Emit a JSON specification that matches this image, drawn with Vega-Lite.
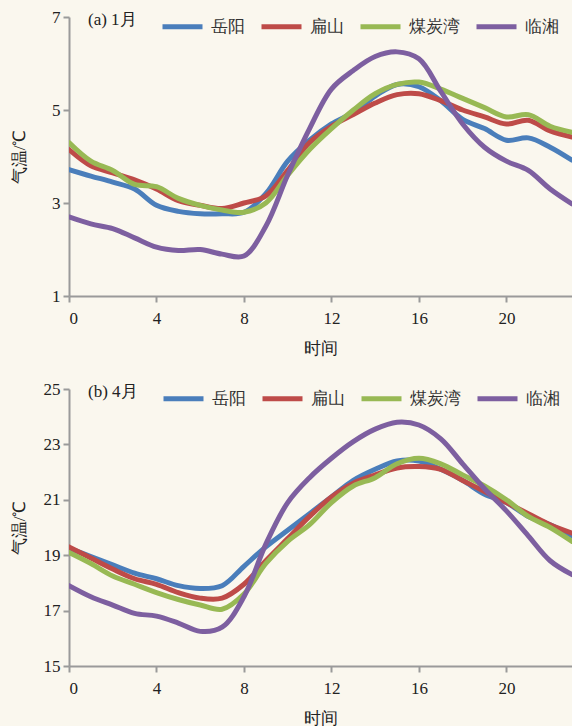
{
  "$schema": "https://vega.github.io/schema/vega-lite/v6.json",
  "autosize": {"type": "pad"},
  "padding": {"left": 10, "top": 4, "right": 0, "bottom": 0},
  "background": "#faf7ee",
  "bounds": "flush",
  "spacing": 93,
  "config": {
    "view": {"stroke": null},
    "font": "Liberation Serif",
    "axis": {
      "grid": false,
      "domainColor": "#9a9a9a",
      "domainWidth": 2,
      "tickColor": "#9a9a9a",
      "tickWidth": 2,
      "tickSize": 6,
      "labelFont": "Liberation Serif",
      "labelFontSize": 17,
      "labelColor": "#222222",
      "titleFont": "Liberation Serif",
      "titleFontSize": 17,
      "titleFontWeight": "normal",
      "titleColor": "#222222"
    },
    "legend": {
      "labelFont": "Liberation Serif",
      "labelFontSize": 17,
      "labelColor": "#333333",
      "titleFont": "Liberation Serif",
      "titleFontSize": 17,
      "titleFontWeight": "normal",
      "titleColor": "#222222"
    }
  },
  "datasets": {
    "temps": [
      {"p":"a","s":"岳阳","h":0,"t":3.72},{"p":"a","s":"岳阳","h":1,"t":3.58},{"p":"a","s":"岳阳","h":2,"t":3.45},{"p":"a","s":"岳阳","h":3,"t":3.3},{"p":"a","s":"岳阳","h":4,"t":2.95},{"p":"a","s":"岳阳","h":5,"t":2.82},{"p":"a","s":"岳阳","h":6,"t":2.77},{"p":"a","s":"岳阳","h":7,"t":2.77},{"p":"a","s":"岳阳","h":8,"t":2.8},{"p":"a","s":"岳阳","h":9,"t":3.2},{"p":"a","s":"岳阳","h":10,"t":3.9},{"p":"a","s":"岳阳","h":11,"t":4.35},{"p":"a","s":"岳阳","h":12,"t":4.7},{"p":"a","s":"岳阳","h":13,"t":4.95},{"p":"a","s":"岳阳","h":14,"t":5.3},{"p":"a","s":"岳阳","h":15,"t":5.55},{"p":"a","s":"岳阳","h":16,"t":5.5},{"p":"a","s":"岳阳","h":17,"t":5.2},{"p":"a","s":"岳阳","h":18,"t":4.8},{"p":"a","s":"岳阳","h":19,"t":4.6},{"p":"a","s":"岳阳","h":20,"t":4.35},{"p":"a","s":"岳阳","h":21,"t":4.4},{"p":"a","s":"岳阳","h":22,"t":4.2},{"p":"a","s":"岳阳","h":23,"t":3.92},
      {"p":"a","s":"扁山","h":0,"t":4.15},{"p":"a","s":"扁山","h":1,"t":3.8},{"p":"a","s":"扁山","h":2,"t":3.65},{"p":"a","s":"扁山","h":3,"t":3.5},{"p":"a","s":"扁山","h":4,"t":3.3},{"p":"a","s":"扁山","h":5,"t":3.05},{"p":"a","s":"扁山","h":6,"t":2.95},{"p":"a","s":"扁山","h":7,"t":2.88},{"p":"a","s":"扁山","h":8,"t":3.0},{"p":"a","s":"扁山","h":9,"t":3.15},{"p":"a","s":"扁山","h":10,"t":3.7},{"p":"a","s":"扁山","h":11,"t":4.3},{"p":"a","s":"扁山","h":12,"t":4.65},{"p":"a","s":"扁山","h":13,"t":4.9},{"p":"a","s":"扁山","h":14,"t":5.15},{"p":"a","s":"扁山","h":15,"t":5.33},{"p":"a","s":"扁山","h":16,"t":5.35},{"p":"a","s":"扁山","h":17,"t":5.2},{"p":"a","s":"扁山","h":18,"t":5.0},{"p":"a","s":"扁山","h":19,"t":4.85},{"p":"a","s":"扁山","h":20,"t":4.7},{"p":"a","s":"扁山","h":21,"t":4.78},{"p":"a","s":"扁山","h":22,"t":4.55},{"p":"a","s":"扁山","h":23,"t":4.42},
      {"p":"a","s":"煤炭湾","h":0,"t":4.3},{"p":"a","s":"煤炭湾","h":1,"t":3.9},{"p":"a","s":"煤炭湾","h":2,"t":3.7},{"p":"a","s":"煤炭湾","h":3,"t":3.4},{"p":"a","s":"煤炭湾","h":4,"t":3.35},{"p":"a","s":"煤炭湾","h":5,"t":3.1},{"p":"a","s":"煤炭湾","h":6,"t":2.95},{"p":"a","s":"煤炭湾","h":7,"t":2.85},{"p":"a","s":"煤炭湾","h":8,"t":2.8},{"p":"a","s":"煤炭湾","h":9,"t":3.0},{"p":"a","s":"煤炭湾","h":10,"t":3.6},{"p":"a","s":"煤炭湾","h":11,"t":4.15},{"p":"a","s":"煤炭湾","h":12,"t":4.6},{"p":"a","s":"煤炭湾","h":13,"t":5.0},{"p":"a","s":"煤炭湾","h":14,"t":5.35},{"p":"a","s":"煤炭湾","h":15,"t":5.55},{"p":"a","s":"煤炭湾","h":16,"t":5.6},{"p":"a","s":"煤炭湾","h":17,"t":5.45},{"p":"a","s":"煤炭湾","h":18,"t":5.25},{"p":"a","s":"煤炭湾","h":19,"t":5.05},{"p":"a","s":"煤炭湾","h":20,"t":4.85},{"p":"a","s":"煤炭湾","h":21,"t":4.9},{"p":"a","s":"煤炭湾","h":22,"t":4.65},{"p":"a","s":"煤炭湾","h":23,"t":4.52},
      {"p":"a","s":"临湘","h":0,"t":2.7},{"p":"a","s":"临湘","h":1,"t":2.55},{"p":"a","s":"临湘","h":2,"t":2.45},{"p":"a","s":"临湘","h":3,"t":2.25},{"p":"a","s":"临湘","h":4,"t":2.05},{"p":"a","s":"临湘","h":5,"t":1.98},{"p":"a","s":"临湘","h":6,"t":2.0},{"p":"a","s":"临湘","h":7,"t":1.9},{"p":"a","s":"临湘","h":8,"t":1.86},{"p":"a","s":"临湘","h":9,"t":2.5},{"p":"a","s":"临湘","h":10,"t":3.6},{"p":"a","s":"临湘","h":11,"t":4.6},{"p":"a","s":"临湘","h":12,"t":5.45},{"p":"a","s":"临湘","h":13,"t":5.85},{"p":"a","s":"临湘","h":14,"t":6.15},{"p":"a","s":"临湘","h":15,"t":6.25},{"p":"a","s":"临湘","h":16,"t":6.1},{"p":"a","s":"临湘","h":17,"t":5.4},{"p":"a","s":"临湘","h":18,"t":4.7},{"p":"a","s":"临湘","h":19,"t":4.2},{"p":"a","s":"临湘","h":20,"t":3.9},{"p":"a","s":"临湘","h":21,"t":3.7},{"p":"a","s":"临湘","h":22,"t":3.3},{"p":"a","s":"临湘","h":23,"t":2.98},
      {"p":"b","s":"岳阳","h":0,"t":19.25},{"p":"b","s":"岳阳","h":1,"t":18.95},{"p":"b","s":"岳阳","h":2,"t":18.65},{"p":"b","s":"岳阳","h":3,"t":18.35},{"p":"b","s":"岳阳","h":4,"t":18.15},{"p":"b","s":"岳阳","h":5,"t":17.9},{"p":"b","s":"岳阳","h":6,"t":17.8},{"p":"b","s":"岳阳","h":7,"t":17.9},{"p":"b","s":"岳阳","h":8,"t":18.6},{"p":"b","s":"岳阳","h":9,"t":19.3},{"p":"b","s":"岳阳","h":10,"t":19.9},{"p":"b","s":"岳阳","h":11,"t":20.5},{"p":"b","s":"岳阳","h":12,"t":21.1},{"p":"b","s":"岳阳","h":13,"t":21.7},{"p":"b","s":"岳阳","h":14,"t":22.1},{"p":"b","s":"岳阳","h":15,"t":22.4},{"p":"b","s":"岳阳","h":16,"t":22.4},{"p":"b","s":"岳阳","h":17,"t":22.1},{"p":"b","s":"岳阳","h":18,"t":21.7},{"p":"b","s":"岳阳","h":19,"t":21.2},{"p":"b","s":"岳阳","h":20,"t":20.9},{"p":"b","s":"岳阳","h":21,"t":20.4},{"p":"b","s":"岳阳","h":22,"t":20.1},{"p":"b","s":"岳阳","h":23,"t":19.7},
      {"p":"b","s":"扁山","h":0,"t":19.3},{"p":"b","s":"扁山","h":1,"t":18.9},{"p":"b","s":"扁山","h":2,"t":18.5},{"p":"b","s":"扁山","h":3,"t":18.15},{"p":"b","s":"扁山","h":4,"t":17.95},{"p":"b","s":"扁山","h":5,"t":17.65},{"p":"b","s":"扁山","h":6,"t":17.45},{"p":"b","s":"扁山","h":7,"t":17.45},{"p":"b","s":"扁山","h":8,"t":17.95},{"p":"b","s":"扁山","h":9,"t":18.8},{"p":"b","s":"扁山","h":10,"t":19.6},{"p":"b","s":"扁山","h":11,"t":20.4},{"p":"b","s":"扁山","h":12,"t":21.1},{"p":"b","s":"扁山","h":13,"t":21.6},{"p":"b","s":"扁山","h":14,"t":21.9},{"p":"b","s":"扁山","h":15,"t":22.15},{"p":"b","s":"扁山","h":16,"t":22.2},{"p":"b","s":"扁山","h":17,"t":22.1},{"p":"b","s":"扁山","h":18,"t":21.7},{"p":"b","s":"扁山","h":19,"t":21.3},{"p":"b","s":"扁山","h":20,"t":20.9},{"p":"b","s":"扁山","h":21,"t":20.5},{"p":"b","s":"扁山","h":22,"t":20.1},{"p":"b","s":"扁山","h":23,"t":19.8},
      {"p":"b","s":"煤炭湾","h":0,"t":19.1},{"p":"b","s":"煤炭湾","h":1,"t":18.7},{"p":"b","s":"煤炭湾","h":2,"t":18.25},{"p":"b","s":"煤炭湾","h":3,"t":17.95},{"p":"b","s":"煤炭湾","h":4,"t":17.65},{"p":"b","s":"煤炭湾","h":5,"t":17.4},{"p":"b","s":"煤炭湾","h":6,"t":17.2},{"p":"b","s":"煤炭湾","h":7,"t":17.05},{"p":"b","s":"煤炭湾","h":8,"t":17.6},{"p":"b","s":"煤炭湾","h":9,"t":18.7},{"p":"b","s":"煤炭湾","h":10,"t":19.5},{"p":"b","s":"煤炭湾","h":11,"t":20.1},{"p":"b","s":"煤炭湾","h":12,"t":20.9},{"p":"b","s":"煤炭湾","h":13,"t":21.5},{"p":"b","s":"煤炭湾","h":14,"t":21.8},{"p":"b","s":"煤炭湾","h":15,"t":22.3},{"p":"b","s":"煤炭湾","h":16,"t":22.5},{"p":"b","s":"煤炭湾","h":17,"t":22.3},{"p":"b","s":"煤炭湾","h":18,"t":21.9},{"p":"b","s":"煤炭湾","h":19,"t":21.5},{"p":"b","s":"煤炭湾","h":20,"t":21.0},{"p":"b","s":"煤炭湾","h":21,"t":20.4},{"p":"b","s":"煤炭湾","h":22,"t":20.0},{"p":"b","s":"煤炭湾","h":23,"t":19.5},
      {"p":"b","s":"临湘","h":0,"t":17.9},{"p":"b","s":"临湘","h":1,"t":17.5},{"p":"b","s":"临湘","h":2,"t":17.2},{"p":"b","s":"临湘","h":3,"t":16.9},{"p":"b","s":"临湘","h":4,"t":16.8},{"p":"b","s":"临湘","h":5,"t":16.55},{"p":"b","s":"临湘","h":6,"t":16.25},{"p":"b","s":"临湘","h":7,"t":16.4},{"p":"b","s":"临湘","h":8,"t":17.5},{"p":"b","s":"临湘","h":9,"t":19.4},{"p":"b","s":"临湘","h":10,"t":20.9},{"p":"b","s":"临湘","h":11,"t":21.8},{"p":"b","s":"临湘","h":12,"t":22.5},{"p":"b","s":"临湘","h":13,"t":23.1},{"p":"b","s":"临湘","h":14,"t":23.55},{"p":"b","s":"临湘","h":15,"t":23.8},{"p":"b","s":"临湘","h":16,"t":23.7},{"p":"b","s":"临湘","h":17,"t":23.2},{"p":"b","s":"临湘","h":18,"t":22.3},{"p":"b","s":"临湘","h":19,"t":21.4},{"p":"b","s":"临湘","h":20,"t":20.6},{"p":"b","s":"临湘","h":21,"t":19.7},{"p":"b","s":"临湘","h":22,"t":18.8},{"p":"b","s":"临湘","h":23,"t":18.3}
    ]
  },
  "data": {"name": "temps"},
  "vconcat": [
    {
      "width": 503,
      "height": 279,
      "transform": [{"filter": "datum.p === 'a'"}],
      "mark": {"type": "line", "interpolate": "catmull-rom", "strokeWidth": 5, "strokeCap": "round", "clip": true},
      "encoding": {
        "x": {"field": "h", "type": "quantitative", "title": "时间",
          "scale": {"domain": [0, 23], "nice": false, "zero": false},
          "axis": {"values": [0, 4, 8, 12, 16, 20], "labelPadding": 8, "titlePadding": 14}},
        "y": {"field": "t", "type": "quantitative", "title": "气温/℃",
          "scale": {"domain": [1, 7], "nice": false, "zero": false},
          "axis": {"values": [1, 3, 5, 7], "labelPadding": 3, "titlePadding": 23}},
        "color": {"field": "s", "type": "nominal", "sort": ["岳阳", "扁山", "煤炭湾", "临湘"],
          "scale": {"domain": ["岳阳", "扁山", "煤炭湾", "临湘"], "range": ["#4a7ebb", "#be4b48", "#98b954", "#7d5fa0"]},
          "legend": {"title": "(a) 1月", "titleOrient": "left", "titlePadding": 23, "orient": "none", "legendX": 19, "legendY": -13, "direction": "horizontal", "symbolType": "stroke", "symbolSize": 1600, "symbolStrokeWidth": 5, "labelOffset": 6, "columnPadding": 6}}
      }
    },
    {
      "width": 503,
      "height": 277,
      "transform": [{"filter": "datum.p === 'b'"}],
      "mark": {"type": "line", "interpolate": "catmull-rom", "strokeWidth": 5, "strokeCap": "round", "clip": true},
      "encoding": {
        "x": {"field": "h", "type": "quantitative", "title": "时间",
          "scale": {"domain": [0, 23], "nice": false, "zero": false},
          "axis": {"values": [0, 4, 8, 12, 16, 20], "labelPadding": 8, "titlePadding": 14}},
        "y": {"field": "t", "type": "quantitative", "title": "气温/℃",
          "scale": {"domain": [15, 25], "nice": false, "zero": false},
          "axis": {"values": [15, 17, 19, 21, 23, 25], "labelPadding": 3, "titlePadding": 15}},
        "color": {"field": "s", "type": "nominal", "sort": ["岳阳", "扁山", "煤炭湾", "临湘"],
          "scale": {"domain": ["岳阳", "扁山", "煤炭湾", "临湘"], "range": ["#4a7ebb", "#be4b48", "#98b954", "#7d5fa0"]},
          "legend": {"title": "(b) 4月", "titleOrient": "left", "titlePadding": 23, "orient": "none", "legendX": 19, "legendY": -13, "direction": "horizontal", "symbolType": "stroke", "symbolSize": 1600, "symbolStrokeWidth": 5, "labelOffset": 6, "columnPadding": 6}}
      }
    }
  ],
  "resolve": {"scale": {"color": "shared"}, "legend": {"color": "independent"}}
}
